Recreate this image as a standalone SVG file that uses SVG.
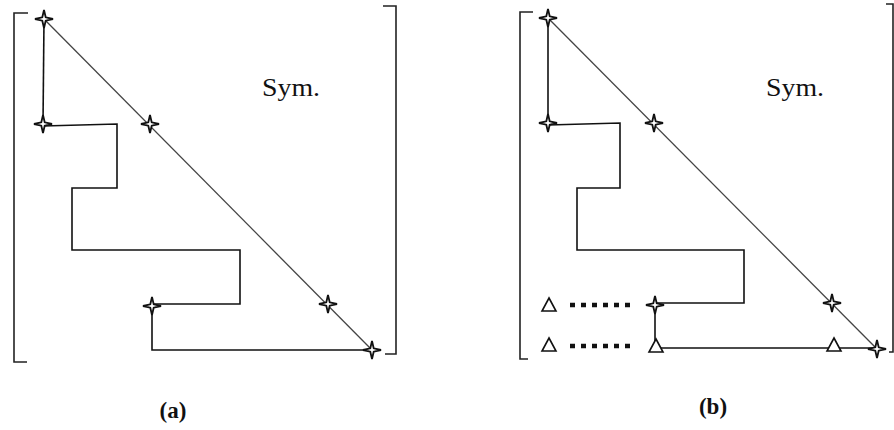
<svg xmlns="http://www.w3.org/2000/svg" width="894" height="430" viewBox="0 0 894 430">
<defs>
<style>
.ln{fill:none;stroke:#111;stroke-width:1.6}
.dg{fill:none;stroke:#444;stroke-width:1.3}
.br{fill:none;stroke:#222;stroke-width:1.6}
.dot{fill:none;stroke:#111;stroke-width:4.5;stroke-dasharray:5 6}
.st{fill:#fff;stroke:#111;stroke-width:1.8}
.tri{fill:#fff;stroke:#111;stroke-width:1.6}
.sym{font-family:"Liberation Serif",serif;font-size:25px;fill:#111}
.lab{font-family:"Liberation Serif",serif;font-size:23px;font-weight:bold;fill:#111}
</style>
<path id="star" class="st" d="M0,-9 L1.7,-1.7 L9,0 L1.7,1.7 L0,9 L-1.7,1.7 L-9,0 L-1.7,-1.7 Z"/>
<path id="tri" class="tri" d="M0,-7 L7,6 L-7,6 Z"/>
</defs>
<rect width="894" height="430" fill="#fff"/>
<g id="panel-a">
<g id="bracket-a">
<path class="br" d="M28,13 H14 V362 H27"/>
<path class="br" d="M383,6 H396 V354 H385"/>
</g>
<g id="connectors-a">
<path class="dg" d="M44,19 L372,350"/>
<path class="ln" d="M44,19 L43,124"/>
<path class="ln" d="M43,126 L117,124 V188 H72 V250 H240 V304 H152 V350 H372"/>
</g>
<g id="nodes-a">
<use href="#star" x="44" y="19"/>
<use href="#star" x="43" y="124"/>
<use href="#star" x="150" y="124"/>
<use href="#star" x="152" y="306"/>
<use href="#star" x="328" y="304"/>
<use href="#star" x="372" y="350"/>
</g>
<text class="sym" x="262" y="96" textLength="58" lengthAdjust="spacingAndGlyphs">Sym.</text>
<text class="lab" x="173" y="418" text-anchor="middle">(a)</text>
</g>
<g id="panel-b">
<g id="bracket-b">
<path class="br" d="M533,12 H520 V359 H528"/>
<path class="br" d="M886,4 H893 V352 H889"/>
</g>
<g id="connectors-b">
<path class="dg" d="M548,18 L877,349"/>
<path class="ln" d="M548,18 L548,123"/>
<path class="ln" d="M548,125 L620,123 V188 H577 V250 H744 V303 H655 V348 H877"/>
<path class="dot" d="M570,305 H636"/>
<path class="dot" d="M570,346 H636"/>
</g>
<g id="nodes-b">
<use href="#star" x="548" y="18"/>
<use href="#star" x="548" y="123"/>
<use href="#star" x="654" y="123"/>
<use href="#star" x="655" y="305"/>
<use href="#star" x="832" y="303"/>
<use href="#star" x="877" y="349"/>
<use href="#tri" x="549" y="305"/>
<use href="#tri" x="549" y="345"/>
<use href="#tri" x="656" y="346"/>
<use href="#tri" x="834" y="345"/>
</g>
<text class="sym" x="766" y="96" textLength="58" lengthAdjust="spacingAndGlyphs">Sym.</text>
<text class="lab" x="713" y="414" text-anchor="middle">(b)</text>
</g>
</svg>
